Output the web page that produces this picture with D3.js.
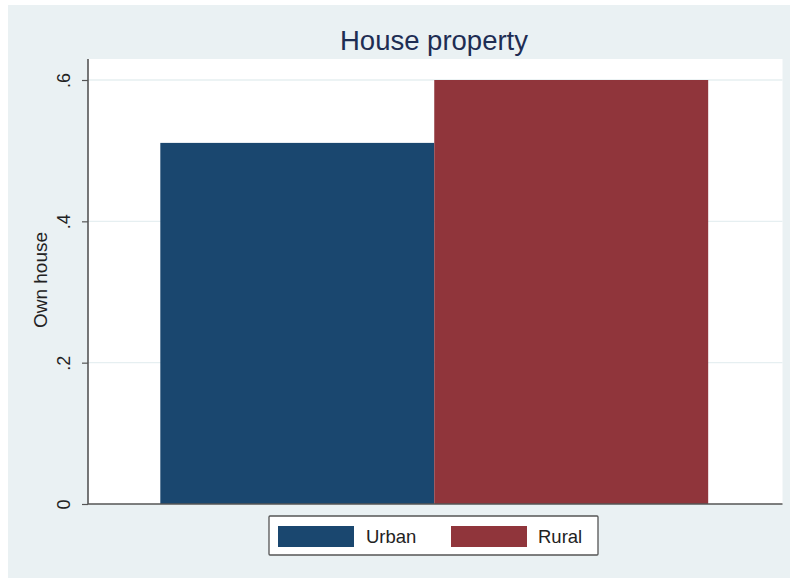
<!DOCTYPE html>
<html><head><meta charset="utf-8">
<script src="https://cdn.jsdelivr.net/npm/d3@7"></script>
<style>body{margin:0;background:#fff}svg{display:block}</style>
</head><body>
<script>
const categories = ["Urban", "Rural"];
const values = [0.511, 0.600];
const colors = ["#1a476f", "#90353b"];
const yTicks = [0, 0.2, 0.4, 0.6];
const yTickLabels = ["0", ".2", ".4", ".6"];
const title = "House property";
const yTitle = "Own house";

const W = 790, H = 578;
const FONT = "Liberation Sans, Arial, Helvetica, sans-serif";
const svg = d3.select("body").append("svg").attr("width", W).attr("height", H);
svg.append("rect").attr("x", 8).attr("y", 5).attr("width", W - 8).attr("height", H - 5).attr("fill", "#eaf1f3");

const plot = {l: 88, r: 782.5, t: 59, b: 504};
svg.append("rect").attr("x", plot.l).attr("y", plot.t).attr("width", plot.r - plot.l).attr("height", plot.b - plot.t).attr("fill", "#fff");

const y = d3.scaleLinear().domain([0, 0.6]).range([plot.b, 80]);
const x = d3.scaleBand().domain(categories).range([plot.l, plot.r - 2]).paddingInner(0).paddingOuter(0.264);

// gridlines
svg.append("g").selectAll("line").data(yTicks.filter(d => d > 0)).join("line")
  .attr("x1", plot.l).attr("x2", plot.r).attr("y1", d => y(d)).attr("y2", d => y(d))
  .attr("stroke", "#e6eff1").attr("stroke-width", 1.3);

// bars
svg.append("g").selectAll("rect").data(categories).join("rect")
  .attr("x", d => x(d)).attr("width", x.bandwidth())
  .attr("y", (d, i) => y(values[i])).attr("height", (d, i) => y(0) - y(values[i]))
  .attr("fill", (d, i) => colors[i]);

// y axis
const yAxis = d3.axisLeft(y).tickValues(yTicks).tickFormat((d, i) => yTickLabels[i]).tickSize(6);
const gy = svg.append("g").attr("transform", `translate(${plot.l},0)`).call(yAxis);
gy.select(".domain").attr("stroke", "#555").attr("stroke-width", 1.6).attr("d", `M0,${plot.t}V${plot.b}`);
gy.selectAll(".tick line").attr("stroke", "#555").attr("stroke-width", 1.2);
gy.selectAll(".tick text").attr("font-family", FONT).attr("font-size", 18).attr("fill", "#222")
  .attr("text-anchor", "middle")
  .attr("transform", "translate(-24,0) rotate(-90)").attr("x", 0).attr("y", 0).attr("dy", "0.35em");

// x axis line
svg.append("line").attr("x1", plot.l).attr("x2", plot.r).attr("y1", plot.b).attr("y2", plot.b)
  .attr("stroke", "#555").attr("stroke-width", 1.6);

// title
svg.append("text").attr("x", 434).attr("y", 50).attr("text-anchor", "middle")
  .attr("font-family", FONT).attr("font-size", 27.5).attr("fill", "#1e2d53").text(title);

// y title
svg.append("text").attr("transform", `translate(40,280) rotate(-90)`)
  .attr("text-anchor", "middle").attr("dy", "0.35em").attr("font-family", FONT)
  .attr("font-size", 19).attr("fill", "#222").text(yTitle);

// legend
const lg = svg.append("g");
lg.append("rect").attr("x", 269).attr("y", 516).attr("width", 329).attr("height", 39)
  .attr("fill", "#fff").attr("stroke", "#555").attr("stroke-width", 1.3).attr("rx", 1);
const legItems = [{sx: 278, tx: 366}, {sx: 451, tx: 538}];
categories.forEach((c, i) => {
  lg.append("rect").attr("x", legItems[i].sx).attr("y", 526).attr("width", 76).attr("height", 21).attr("fill", colors[i]);
  lg.append("text").attr("x", legItems[i].tx).attr("y", 543).attr("font-family", FONT)
    .attr("font-size", 18.5).attr("fill", "#222").text(c);
});
</script>
</body></html>
